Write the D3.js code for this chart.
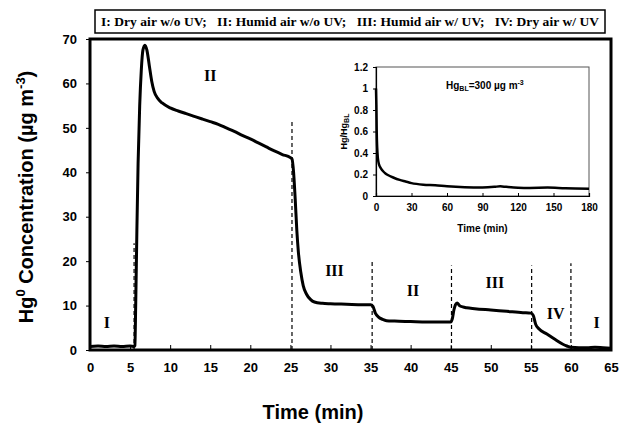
<!DOCTYPE html>
<html><head><meta charset="utf-8">
<script src="https://cdn.jsdelivr.net/npm/d3@7"></script>
<style>body{margin:0;background:#fff;} svg{display:block;}</style>
</head><body>
<svg id="c" width="620" height="425"></svg>
<script>
// ---- data ----
const mainTime = [0,1,2,3,4,5,5.5,5.6,5.7,5.85,6.0,6.2,6.4,6.6,6.85,7.1,7.4,7.7,8.0,8.5,9,10,11,12,13,14,15,16,17,18,19,20,21,22,23,24,25,25.2,25.4,25.6,25.8,26.0,26.3,26.6,27.0,27.5,28,29,30,32,34,35,35.3,35.6,36,36.5,37,38,40,42,44,45,45.2,45.4,45.6,45.8,46.1,46.5,47,48,50,52,54,55,55.3,55.6,56,57,58,59,59.5,60,61,62,63,64,65];
const mainHg = [0.8,0.9,0.8,0.9,0.8,0.9,0.8,1,10,27,42,55,63,67.5,68.6,67.5,64,60.5,58.2,56.5,55.6,54.5,53.8,53.2,52.6,52,51.4,50.8,50,49.2,48.3,47.5,46.6,45.7,44.8,44,43.3,43,40,34,27,22,17.5,14.5,12.6,11.4,10.8,10.5,10.4,10.3,10.2,10.2,9.8,8.3,7.4,6.9,6.6,6.5,6.4,6.3,6.3,6.3,7,9,10.2,10.6,10,9.7,9.5,9.3,9.0,8.7,8.4,8.3,7.8,5.8,4.8,3.6,2.4,1.3,0.9,0.6,0.5,0.5,0.6,0.5,0.4];
const xTicks = [0,5,10,15,20,25,30,35,40,45,50,55,60,65];
const yTicks = [0,10,20,30,40,50,60,70];
const switchTimes = [5.5,25.2,35.2,45.1,55.1,60];
const switchTops = [24,52,20,19,19,19.5];
const regionLabels = ["I","II","III","II","III","IV","I"];
const regionX = [2.1,15,30.5,40.3,50.5,58.1,63.2];
const regionY = [6.1,61.7,18,13.5,15.3,8.3,6.1];
const legendText = "I: Dry air w/o UV;   II: Humid air w/o UV;   III: Humid air w/ UV;   IV: Dry air w/ UV";

const insetTime = [0,0.3,0.6,1,1.5,2,3,4,6,8,10,15,20,25,30,40,50,60,75,90,100,105,110,120,130,145,160,180];
const insetRatio = [1.0,0.85,0.6,0.45,0.36,0.32,0.28,0.26,0.23,0.21,0.195,0.17,0.15,0.135,0.12,0.105,0.1,0.09,0.082,0.08,0.085,0.09,0.085,0.077,0.075,0.078,0.072,0.068];
const insetXTicks = [0,30,60,90,120,150,180];
const insetYTicks = [0,0.2,0.4,0.6,0.8,1,1.2];

// ---- drawing ----
const svg = d3.select("#c");
const ARIAL = "'Liberation Sans', Arial, sans-serif";
const TIMES = "'Liberation Serif', 'Times New Roman', serif";

const x = d3.scaleLinear().domain([0,65]).range([90,611]);
const y = d3.scaleLinear().domain([0,70]).range([350,39]);

// legend
const lg = svg.append("g");
lg.append("rect").attr("x",95).attr("y",10).attr("width",510).attr("height",23)
  .attr("fill","#fff").attr("stroke","#000").attr("stroke-width",1.5);
lg.append("text").attr("x",350).attr("y",26).attr("text-anchor","middle")
  .attr("font-family",TIMES).attr("font-weight","bold").attr("font-size",13.5)
  .attr("textLength",498).attr("lengthAdjust","spacing")
  .style("white-space","pre").text(legendText);

// axes
const xAxis = d3.axisBottom(x).tickValues(xTicks).tickSize(-5).tickPadding(10).tickFormat(d3.format("d"));
const gx = svg.append("g").attr("transform","translate(0,350)").call(xAxis);
const yAxis = d3.axisLeft(y).tickValues(yTicks).tickSize(4).tickPadding(9).tickFormat(d3.format("d"));
const gy = svg.append("g").attr("transform","translate(90,0)").call(yAxis);
[gx,gy].forEach(g=>{
  g.select(".domain").remove();
  g.selectAll("text").attr("font-family",ARIAL).attr("font-weight","bold").attr("font-size",13).attr("fill","#000");
  g.selectAll("line").attr("stroke","#000").attr("stroke-width",1);
});
gx.selectAll("text").attr("dy","0.9em");

// frame
svg.append("rect").attr("x",x(0)).attr("y",y(70)).attr("width",x(65)-x(0)).attr("height",y(0)-y(70))
  .attr("fill","none").attr("stroke","#000").attr("stroke-width",3);

// dashed switch lines
svg.append("g").selectAll("line").data(switchTimes).join("line")
  .attr("x1",d=>x(d)).attr("x2",d=>x(d))
  .attr("y1",y(0)).attr("y2",(d,i)=>y(switchTops[i]))
  .attr("stroke","#000").attr("stroke-width",1.2).attr("stroke-dasharray","4,3");

// main line
const line = d3.line().x((d,i)=>x(mainTime[i])).y(d=>y(d)).curve(d3.curveMonotoneX);
svg.append("path").datum(mainHg).attr("d",line).attr("fill","none")
  .attr("stroke","#000").attr("stroke-width",3).attr("stroke-linejoin","round");

// region labels
svg.append("g").selectAll("text").data(regionLabels).join("text")
  .attr("x",(d,i)=>x(regionX[i])).attr("y",(d,i)=>y(regionY[i])).attr("dy","0.35em")
  .attr("text-anchor","middle").attr("font-family",TIMES).attr("font-weight","bold").attr("font-size",16)
  .text(d=>d);

// axis titles
const yt = svg.append("text").attr("transform","translate(33,197) rotate(-90)").attr("text-anchor","middle")
  .attr("font-family",ARIAL).attr("font-weight","bold").attr("font-size",20);
yt.append("tspan").text("Hg");
yt.append("tspan").attr("dy",-8).attr("font-size",13).text("0");
yt.append("tspan").attr("dy",8).text(" Concentration (µg m");
yt.append("tspan").attr("dy",-8).attr("font-size",13).text("-3");
yt.append("tspan").attr("dy",8).text(")");

svg.append("text").attr("x",313).attr("y",419).attr("text-anchor","middle")
  .attr("font-family",ARIAL).attr("font-weight","bold").attr("font-size",20).text("Time (min)");

// ---- inset ----
const ix = d3.scaleLinear().domain([0,180]).range([376,589]);
const iy = d3.scaleLinear().domain([0,1.2]).range([196,67]);
const ig = svg.append("g");
ig.append("rect").attr("x",ix(0)).attr("y",iy(1.2)).attr("width",ix(180)-ix(0)).attr("height",iy(0)-iy(1.2))
  .attr("fill","none").attr("stroke","#555").attr("stroke-width",1);
const ixA = d3.axisBottom(ix).tickValues(insetXTicks).tickSize(-3).tickPadding(8).tickFormat(d3.format("d"));
const iyA = d3.axisLeft(iy).tickValues(insetYTicks).tickSize(3).tickPadding(5).tickFormat(d=>d3.format("~g")(d));
const igx = ig.append("g").attr("transform",`translate(0,${iy(0)})`).call(ixA);
const igy = ig.append("g").attr("transform",`translate(${ix(0)},0)`).call(iyA);
[igx,igy].forEach(g=>{
  g.select(".domain").attr("stroke","#000").attr("stroke-width",1.2);
  g.selectAll("text").attr("font-family",ARIAL).attr("font-weight","bold").attr("font-size",10).attr("fill","#000");
  g.selectAll("line").attr("stroke","#000");
});
const iline = d3.line().x((d,i)=>ix(insetTime[i])).y(d=>iy(d)).curve(d3.curveMonotoneX);
ig.append("path").datum(insetRatio).attr("d",iline).attr("fill","none")
  .attr("stroke","#000").attr("stroke-width",2.5);
ig.append("text").attr("x",(ix(0)+ix(180))/2).attr("y",232).attr("text-anchor","middle")
  .attr("font-family",ARIAL).attr("font-weight","bold").attr("font-size",10).text("Time (min)");
const iyt = ig.append("text").attr("transform",`translate(347,${(iy(0)+iy(1.2))/2}) rotate(-90)`).attr("text-anchor","middle")
  .attr("font-family",ARIAL).attr("font-weight","bold").attr("font-size",9);
iyt.append("tspan").text("Hg/Hg");
iyt.append("tspan").attr("dy",2).attr("font-size",7).text("BL");
const ann = ig.append("text").attr("x",446).attr("y",89)
  .attr("font-family",ARIAL).attr("font-weight","bold").attr("font-size",10);
ann.append("tspan").text("Hg");
ann.append("tspan").attr("dy",2).attr("font-size",7).text("BL");
ann.append("tspan").attr("dy",-2).text("=300 µg m");
ann.append("tspan").attr("dy",-4).attr("font-size",7).text("-3");
</script>
</body></html>
